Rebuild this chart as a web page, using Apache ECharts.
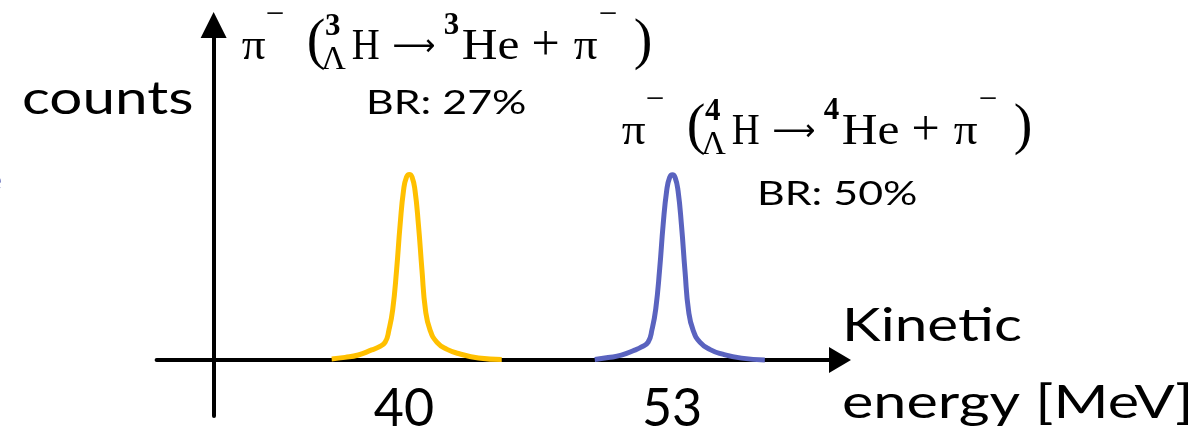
<!DOCTYPE html>
<html>
<head>
<meta charset="utf-8">
<script src="https://cdn.jsdelivr.net/npm/echarts@6/dist/echarts.min.js"></script>
<style>
  html, body { margin: 0; padding: 0; background: #fff; }
  #chart { width: 1199px; height: 431px; }
</style>
</head>
<body>
<div id="chart"></div>
<script>
// peak shapes (x in MeV, y in arbitrary counts)
const peak3HX = [36.49, 37.14, 37.78, 38.43, 38.74, 39.08, 39.27, 39.45, 39.64, 39.81, 39.98, 40.12,
  40.26, 40.39, 40.53, 40.70, 40.87, 41.04, 41.26, 41.60, 42.09, 42.64, 43.61, 44.74];
const peak3HY = [0.6, 1.4, 2.7, 5.4, 6.8, 9.5, 16.2, 26.9, 48.4, 72.6, 91.4, 98.3,
  99.7, 98.3, 91.4, 72.6, 48.4, 26.9, 16.2, 9.5, 5.7, 3.5, 1.1, 0.3];
const peak4HX = [49.25, 49.90, 50.54, 51.19, 51.50, 51.84, 52.03, 52.21, 52.40, 52.57, 52.74, 52.88,
  53.02, 53.15, 53.29, 53.46, 53.63, 53.80, 54.02, 54.36, 54.85, 55.40, 56.37, 57.50];
const peak4HY = [0.3, 1.3, 2.6, 5.3, 6.9, 9.6, 16.5, 27.5, 49.0, 73.0, 91.0, 98.0,
  99.5, 98.0, 91.0, 72.0, 47.5, 26.5, 16.0, 9.5, 5.6, 3.3, 1.0, 0.0];
const tickValues = [40, 53];
const labels3H = { mass: '3', br: 'BR: 27%' };
const labels4H = { mass: '4', br: 'BR: 50%' };

const SERIF = '"Liberation Serif", "DejaVu Serif", serif';
const MATHSYM = '"DejaVu Sans", sans-serif';
const SANS = 'Lato, "Open Sans", sans-serif';

function pairs(xs, ys) {
  return xs.map((x, i) => [x, ys[i]]);
}

// text placed by its x anchor and baseline (canvas "middle" sits ~k em above it)
function txt(str, x, base, size, family, opts) {
  opts = opts || {};
  const k = opts.k != null ? opts.k : 0.34;
  return {
    type: 'text',
    x: x,
    y: base - k * size,
    scaleX: opts.sx || 1,
    style: {
      text: str,
      font: (opts.bold ? 'bold ' : '') + size + 'px ' + family,
      fill: opts.color || '#000',
      textAlign: opts.align || 'left',
      verticalAlign: 'middle'
    },
    silent: true
  };
}

// π⁻ (ᴬΛH → ᴬHe + π⁻) laid out from the left edge of the first π
function reaction(x0, base, mass) {
  return [
    txt('\u03c0', x0, base, 45, SERIF, { sx: 1.05 }),
    txt('\u2212', x0 + 24, base - 35, 33, SERIF),
    txt('(', x0 + 65, base, 56, SERIF),
    txt(mass, x0 + 91, base - 24, 31, SERIF, { bold: true, align: 'center' }),
    txt('\u039b', x0 + 92, base + 10, 34, SERIF, { align: 'center' }),
    txt('H', x0 + 110, base, 45, SERIF, { sx: 0.86 }),
    txt('\u27f6', x0 + 172, base - 15, 30, MATHSYM, { align: 'center', k: 0 }),
    txt(mass, x0 + 202, base - 25, 31, SERIF, { bold: true }),
    txt('He', x0 + 220, base, 45, SERIF, { sx: 1.1 }),
    txt('+', x0 + 304, base + 2, 50, SERIF, { align: 'center' }),
    txt('\u03c0', x0 + 332, base, 45, SERIF, { sx: 1.05 }),
    txt('\u2212', x0 + 357, base - 35, 33, SERIF),
    txt(')', x0 + 392, base, 56, SERIF)
  ];
}

const axisStroke = { color: '#000', width: 4 };

const chart = echarts.init(document.getElementById('chart'));
chart.setOption({
  animation: false,
  grid: [
    // main plot: x axis sits on its bottom edge
    { left: 156.6, right: 362, top: 25, bottom: 71, outerBoundsMode: 'none' },
    // stub below the x axis, only to carry the y axis line down
    { left: 156.6, right: 362, top: 360, bottom: 15, outerBoundsMode: 'none' }
  ],
  xAxis: [
    {
      gridIndex: 0,
      type: 'value',
      min: 28,
      max: 61,
      interval: 1,
      axisLine: {
        show: true,
        onZero: false,
        symbol: ['none', 'triangle'],
        symbolSize: [26, 22],
        symbolOffset: [0, 3],
        lineStyle: axisStroke
      },
      axisTick: { show: false },
      splitLine: { show: false },
      axisLabel: {
        formatter: (v) => (tickValues.indexOf(v) >= 0 ? String(v) : ''),
        color: '#000',
        fontFamily: SANS,
        fontSize: 52,
        margin: 23
      }
    },
    { gridIndex: 1, type: 'value', min: 28, max: 61, show: false }
  ],
  yAxis: [
    {
      gridIndex: 0,
      type: 'value',
      min: 0,
      max: 180,
      offset: -57,
      axisLine: {
        show: true,
        onZero: false,
        symbol: ['none', 'triangle'],
        symbolSize: [26, 26],
        lineStyle: axisStroke
      },
      axisTick: { show: false },
      splitLine: { show: false },
      axisLabel: { show: false }
    },
    {
      gridIndex: 1,
      type: 'value',
      min: 0,
      max: 1,
      offset: -57,
      axisLine: { show: true, onZero: false, lineStyle: axisStroke },
      axisTick: { show: false },
      splitLine: { show: false },
      axisLabel: { show: false }
    }
  ],
  series: [
    {
      name: '3H',
      type: 'line',
      smooth: true,
      clip: false,
      showSymbol: false,
      lineStyle: { color: '#FFC000', width: 5 },
      data: pairs(peak3HX, peak3HY)
    },
    {
      name: '4H',
      type: 'line',
      smooth: true,
      clip: false,
      showSymbol: false,
      lineStyle: { color: '#5A63BF', width: 5 },
      data: pairs(peak4HX, peak4HY)
    }
  ],
  graphic: [
    txt('e', -13, 191, 28, SANS, { color: '#4F5AAE', k: 0.36 }),
    txt('counts', 22, 116, 46, SANS, { sx: 1.27, k: 0.36 }),
    txt(labels3H.br, 366, 115, 33, SANS, { sx: 1.3, k: 0.36 }),
    txt(labels4H.br, 757, 206, 33, SANS, { sx: 1.3, k: 0.36 }),
    txt('Kinetic', 842, 343, 46, SANS, { sx: 1.27, k: 0.36 }),
    txt('energy [MeV]', 842, 420, 46, SANS, { sx: 1.29, k: 0.36 })
  ].concat(reaction(241.7, 62, labels3H.mass), reaction(621.7, 147, labels4H.mass))
});

window.addEventListener('resize', () => chart.resize());
</script>
</body>
</html>
